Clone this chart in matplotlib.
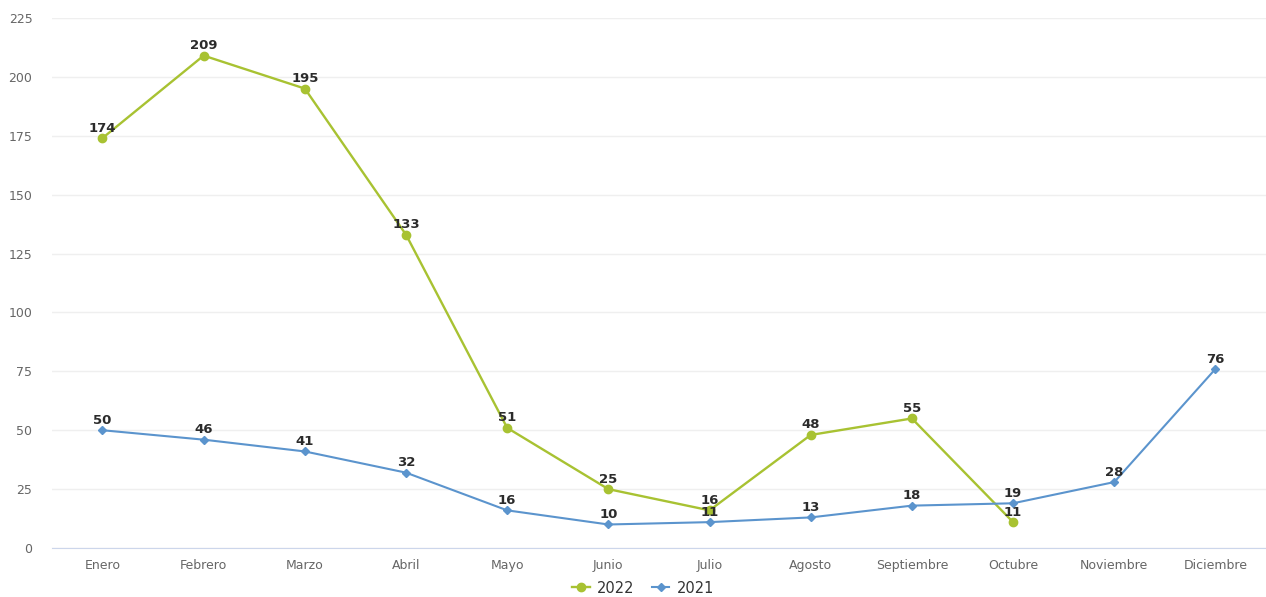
import matplotlib.pyplot as plt
from matplotlib.lines import Line2D

months = ["Enero", "Febrero", "Marzo", "Abril", "Mayo", "Junio", "Julio",
          "Agosto", "Septiembre", "Octubre", "Noviembre", "Diciembre"]
values_2022 = [174, 209, 195, 133, 51, 25, 16, 48, 55, 11]
values_2021 = [50, 46, 41, 32, 16, 10, 11, 13, 18, 19, 28, 76]
y_ticks = [0, 25, 50, 75, 100, 125, 150, 175, 200, 225]

green = "#a8c232"
blue = "#5b94cd"
label_color = "#2b2b2b"
tick_color = "#666666"

fig = plt.figure(figsize=(12.66, 5.97), dpi=100)
ax = fig.add_axes([0.041, 0.082, 0.959, 0.888])

x22 = list(range(len(values_2022)))
x21 = list(range(len(values_2021)))

ax.plot(x22, values_2022, color=green, lw=1.7, marker="o", ms=6, zorder=3)
ax.plot(x21, values_2021, color=blue, lw=1.5, marker="D", ms=4.5, zorder=3)

for x, v in zip(x22, values_2022):
    ax.annotate(str(v), (x, v), xytext=(0, 2.5), textcoords="offset points",
                ha="center", va="bottom", fontsize=9.5, fontweight="bold",
                color=label_color, zorder=4)
for x, v in zip(x21, values_2021):
    ax.annotate(str(v), (x, v), xytext=(0, 2.5), textcoords="offset points",
                ha="center", va="bottom", fontsize=9.5, fontweight="bold",
                color=label_color, zorder=4)

ax.set_xlim(-0.5, len(months) - 0.5)
ax.set_ylim(0, 225)
ax.set_xticks(x21)
ax.set_xticklabels(months)
ax.set_yticks(y_ticks)
ax.tick_params(axis="both", length=0, colors=tick_color, labelsize=9)
ax.tick_params(axis="x", pad=8)
ax.tick_params(axis="y", pad=14)

ax.grid(axis="y", color="#efefef", lw=1)
ax.set_axisbelow(True)
for side in ["top", "right", "left"]:
    ax.spines[side].set_visible(False)
ax.spines["bottom"].set_color("#ccd6eb")

handles = [
    Line2D([], [], color=green, lw=1.7, marker="o", ms=6, label="2022"),
    Line2D([], [], color=blue, lw=1.5, marker="D", ms=4.5, label="2021"),
]
fig.legend(handles=handles, loc="center", bbox_to_anchor=(0.508, 0.015),
           ncol=2, frameon=False, fontsize=10.5, handlelength=1.2,
           columnspacing=1.2, handletextpad=0.5, labelcolor="#333333")

fig.savefig("out.png", dpi=100)
